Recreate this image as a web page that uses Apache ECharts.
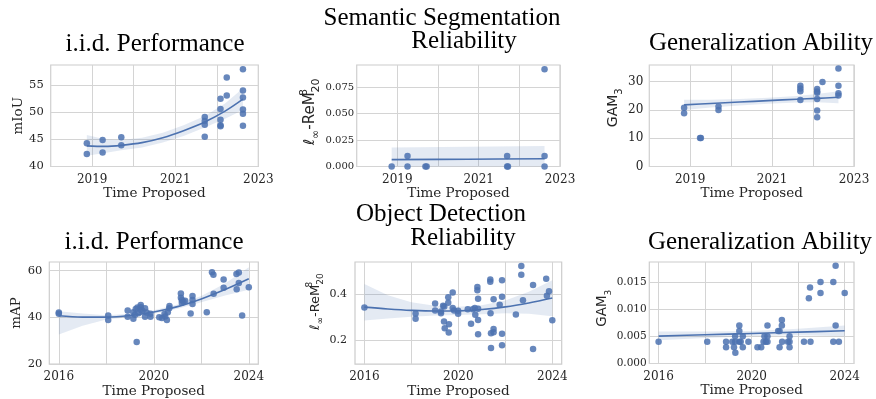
<!DOCTYPE html>
<html>
<head>
<meta charset="utf-8">
<script src="https://cdn.jsdelivr.net/npm/echarts@6/dist/echarts.min.js"></script>
<style>
  html, body { margin: 0; padding: 0; background: #fff; }
  #chart { width: 876px; height: 399px; }
</style>
</head>
<body>
<div id="chart"></div>
<script>
// ---- Semantic segmentation: i.i.d. performance (mIoU) ----
const segIidPoints = [
  [2018.87, 44.3], [2018.87, 42.3], [2019.25, 44.9], [2019.25, 42.6], [2019.70, 45.4], [2019.70, 43.9],
  [2021.71, 49.1], [2021.71, 48.4], [2021.71, 47.7], [2021.71, 45.5],
  [2022.09, 52.5], [2022.09, 50.6], [2022.09, 48.6], [2022.09, 47.6], [2022.09, 47.4],
  [2022.24, 56.4], [2022.24, 53.1],
  [2022.63, 57.9], [2022.63, 54.0], [2022.63, 52.7], [2022.63, 50.5], [2022.63, 49.7], [2022.63, 47.5]
];
const segIidFitX  = [2018.87, 2019.3, 2019.7, 2020.2, 2020.7, 2021.2, 2021.71, 2022.2, 2022.63];
const segIidFit   = [43.8, 43.7, 43.9, 44.4, 45.3, 46.6, 48.2, 50.2, 52.4];
const segIidUpper = [45.8, 45.0, 44.9, 45.3, 46.2, 47.6, 49.3, 51.6, 54.4];
const segIidLower = [42.0, 42.5, 43.0, 43.5, 44.4, 45.6, 47.2, 48.8, 50.4];

// ---- Semantic segmentation: reliability ----
const segRelPoints = [
  [2018.86, 0], [2019.25, 0.010], [2019.25, 0], [2019.69, 0], [2019.72, 0],
  [2021.70, 0.010], [2021.70, 0], [2021.72, 0],
  [2022.62, 0.092], [2022.62, 0.010], [2022.62, 0]
];
const segRelFitX  = [2018.86, 2020.74, 2022.62];
const segRelFit   = [0.0065, 0.0069, 0.0073];
const segRelUpper = [0.0180, 0.0186, 0.0195];
const segRelLower = [-0.0050, -0.0048, -0.0050];

// ---- Semantic segmentation: generalization ability (GAM3) ----
const segGenPoints = [
  [2018.85, 20.8], [2018.85, 18.8], [2019.24, 10.1], [2019.26, 10.1], [2019.69, 21.2], [2019.69, 20.0],
  [2021.69, 28.6], [2021.69, 27.6], [2021.69, 26.6], [2021.69, 23.5],
  [2022.10, 27.4], [2022.10, 26.5], [2022.10, 26.1], [2022.10, 23.9], [2022.10, 19.8], [2022.10, 17.4],
  [2022.23, 29.9],
  [2022.62, 34.7], [2022.62, 28.6], [2022.62, 25.9], [2022.62, 25.1]
];
const segGenFitX  = [2018.85, 2019.5, 2020.2, 2020.9, 2021.6, 2022.1, 2022.62];
const segGenFit   = [21.8, 22.3, 22.8, 23.3, 23.8, 24.1, 24.5];
const segGenUpper = [23.6, 23.6, 23.9, 24.3, 24.9, 25.6, 26.6];
const segGenLower = [20.0, 20.9, 21.6, 22.2, 22.6, 22.7, 22.4];

// ---- Object detection: i.i.d. performance (mAP) ----
const detIidPoints = [
  [2016.0, 42.1], [2016.0, 41.5], [2018.08, 40.8], [2018.08, 38.9], [2018.90, 42.9], [2018.90, 40.3],
  [2019.14, 42.2], [2019.14, 39.4], [2019.21, 41.1], [2019.24, 43.6], [2019.31, 44.2], [2019.28, 29.5],
  [2019.35, 41.8], [2019.45, 45.3], [2019.45, 44.3], [2019.45, 43.2], [2019.52, 42.8], [2019.63, 43.9],
  [2019.63, 40.3], [2019.70, 42.1], [2019.86, 40.3], [2019.86, 41.5], [2020.23, 40.0], [2020.34, 39.7],
  [2020.45, 41.4], [2020.48, 40.4], [2020.55, 38.9], [2020.59, 42.2], [2020.65, 43.9], [2020.66, 44.9],
  [2021.14, 50.2], [2021.14, 48.4], [2021.18, 47.4], [2021.25, 46.7], [2021.32, 47.1], [2021.18, 46.3],
  [2021.55, 41.7], [2021.63, 49.1], [2021.63, 47.4], [2021.63, 45.7], [2022.23, 42.2], [2022.45, 59.3],
  [2022.51, 58.2], [2022.52, 50.1], [2022.94, 56.2], [2022.94, 52.7], [2023.48, 58.6], [2023.58, 59.2],
  [2023.49, 52.0], [2023.58, 54.7], [2023.72, 40.8], [2024.0, 52.9]
];
const detIidFitX  = [2016, 2017, 2018, 2019, 2020, 2021, 2022, 2023, 2024];
const detIidFit   = [40.7, 40.1, 40.1, 40.8, 42.3, 44.6, 47.9, 51.9, 56.5];
const detIidUpper = [42.6, 41.7, 40.9, 41.6, 43.0, 45.5, 49.2, 54.5, 61.5];
const detIidLower = [32.7, 36.4, 39.1, 40.0, 41.5, 43.7, 46.5, 49.4, 51.8];

// ---- Object detection: reliability ----
const detRelPoints = [
  [2016.0, 0.342], [2018.18, 0.317], [2018.18, 0.294], [2019.01, 0.360], [2019.01, 0.330],
  [2019.26, 0.325], [2019.26, 0.318], [2019.35, 0.350], [2019.40, 0.347], [2019.57, 0.386],
  [2019.57, 0.363], [2019.39, 0.282], [2019.42, 0.253], [2019.60, 0.270], [2019.59, 0.235],
  [2019.76, 0.407], [2019.76, 0.340], [2019.82, 0.330], [2019.99, 0.328], [2019.99, 0.315],
  [2020.40, 0.335], [2020.54, 0.272], [2020.62, 0.335], [2020.70, 0.340], [2020.72, 0.311],
  [2020.81, 0.430], [2020.81, 0.416], [2020.84, 0.380], [2020.84, 0.337], [2020.84, 0.289],
  [2020.84, 0.227], [2021.36, 0.463], [2021.36, 0.453], [2021.37, 0.318], [2021.39, 0.232],
  [2021.50, 0.250], [2021.50, 0.236], [2021.50, 0.378], [2021.39, 0.168], [2021.76, 0.354],
  [2021.86, 0.459], [2021.86, 0.389], [2021.86, 0.229], [2021.86, 0.180], [2022.45, 0.312],
  [2022.68, 0.521], [2022.68, 0.483], [2022.75, 0.374], [2023.18, 0.439], [2023.18, 0.164],
  [2023.74, 0.466], [2023.77, 0.393], [2023.86, 0.412], [2024.0, 0.288]
];
const detRelFitX  = [2016, 2017, 2018, 2019, 2020, 2021, 2022, 2023, 2024];
const detRelFit   = [0.344, 0.336, 0.330, 0.327, 0.328, 0.334, 0.345, 0.362, 0.383];
const detRelUpper = [0.443, 0.395, 0.365, 0.350, 0.346, 0.352, 0.372, 0.410, 0.460];
const detRelLower = [0.286, 0.295, 0.303, 0.308, 0.310, 0.313, 0.318, 0.315, 0.305];

// ---- Object detection: generalization ability (GAM3) ----
const detGenPoints = [
  [2016.0, 0.004], [2018.09, 0.004], [2018.90, 0.004], [2018.90, 0.003], [2019.17, 0.004],
  [2019.24, 0.003], [2019.29, 0.004], [2019.29, 0.005], [2019.30, 0.002], [2019.47, 0.007],
  [2019.47, 0.006], [2019.47, 0.004], [2019.53, 0.004], [2019.62, 0.005], [2019.62, 0.003],
  [2019.86, 0.004], [2020.25, 0.003], [2020.41, 0.003], [2020.51, 0.004], [2020.55, 0.005],
  [2020.61, 0.004], [2020.68, 0.007], [2020.68, 0.005], [2020.68, 0.004], [2021.14, 0.006],
  [2021.20, 0.006], [2021.20, 0.003], [2021.30, 0.008], [2021.30, 0.007], [2021.31, 0.004],
  [2021.56, 0.004], [2021.63, 0.005], [2021.63, 0.004], [2021.63, 0.003], [2022.25, 0.004],
  [2022.46, 0.012], [2022.51, 0.014], [2022.53, 0.004], [2022.96, 0.015], [2022.96, 0.013],
  [2023.51, 0.015], [2023.61, 0.018], [2023.61, 0.007], [2023.51, 0.004], [2023.75, 0.004],
  [2024.0, 0.013]
];
const detGenFitX  = [2016, 2018, 2020, 2022, 2024];
const detGenFit   = [0.00504, 0.00529, 0.00554, 0.00578, 0.00603];
const detGenUpper = [0.0059, 0.0059, 0.0060, 0.0064, 0.0070];
const detGenLower = [0.0043, 0.0047, 0.0050, 0.0052, 0.0050];

// ---- tick positions ----
const segYearTicks = [2018, 2019, 2020, 2021, 2022, 2023];
const segYearLabels = [2019, 2021, 2023];
const detYearTicks = [2016, 2018, 2020, 2022, 2024];
const detYearLabels = [2016, 2020, 2024];

// ---- styling ----
const BLUE = '#4c72b0';
const BAND = 'rgba(76,114,176,0.15)';
const GRID_LINE = '#d4d4d4';
const FRAME = '#cccccc';
const TICK_TEXT = '#262626';
const SERIF = '"DejaVu Serif", serif';
const SANS = '"DejaVu Sans", sans-serif';

function mathRich(size) {
  const small = Math.round(size * 0.7);
  const lh = Math.round(size * 1.5);
  return {
    it: { fontFamily: SANS, fontStyle: 'italic', fontSize: size, lineHeight: lh, color: TICK_TEXT },
    rm: { fontFamily: SANS, fontSize: size, lineHeight: lh, color: TICK_TEXT },
    hi: { fontFamily: SANS, fontSize: small, lineHeight: small + 2, width: 0, verticalAlign: 'top', color: TICK_TEXT },
    lo: { fontFamily: SANS, fontSize: small, lineHeight: small + 2, verticalAlign: 'bottom', color: TICK_TEXT }
  };
}

const panels = [
  { box: { left: 50.7, top: 65, width: 207.6, height: 101.5 },
    x: { min: 2018, max: 2023, ticks: segYearTicks, labels: segYearLabels, nameGap: 20 },
    y: { min: 40, max: 58.7, ticks: [40, 45, 50, 55], digits: 0, margin: 7, size: 11.5 },
    yName: { text: 'mIoU', font: SERIF, size: 13.5, gap: 23, shift: 0 },
    pts: segIidPoints, fx: segIidFitX, fit: segIidFit, up: segIidUpper, lo: segIidLower },
  { box: { left: 356.7, top: 65, width: 203.3, height: 101.5 },
    x: { min: 2018, max: 2023, ticks: segYearTicks, labels: segYearLabels, nameGap: 20 },
    y: { min: 0, max: 0.096, ticks: [0, 0.025, 0.05, 0.075], digits: 3, margin: 2.5, size: 10 },
    yName: { rich: '{it|ℓ}{lo|∞}{rm|-ReM}{hi|8}{lo|20}', size: 15, gap: 24, shift: 8 },
    pts: segRelPoints, fx: segRelFitX, fit: segRelFit, up: segRelUpper, lo: segRelLower },
  { box: { left: 649.3, top: 65, width: 204.7, height: 101.5 },
    x: { min: 2018, max: 2023, ticks: segYearTicks, labels: segYearLabels, nameGap: 20 },
    y: { min: 0, max: 35.9, ticks: [0, 10, 20, 30], digits: 0, margin: 6, size: 12 },
    yName: { rich: '{rm|GAM}{lo|3}', size: 14, gap: 22, shift: 16 },
    pts: segGenPoints, fx: segGenFitX, fit: segGenFit, up: segGenUpper, lo: segGenLower },
  { box: { left: 49.3, top: 262, width: 209, height: 102.5 },
    x: { min: 2015.6, max: 2024.4, ticks: detYearTicks, labels: detYearLabels, nameGap: 18 },
    y: { min: 20, max: 63.7, ticks: [20, 40, 60], digits: 0, margin: 7, size: 11.5 },
    yName: { text: 'mAP', font: SERIF, size: 13.5, gap: 24, shift: 0 },
    pts: detIidPoints, fx: detIidFitX, fit: detIidFit, up: detIidUpper, lo: detIidLower },
  { box: { left: 355, top: 262, width: 206.7, height: 102.5 },
    x: { min: 2015.6, max: 2024.4, ticks: detYearTicks, labels: detYearLabels, nameGap: 18 },
    y: { min: 0.099, max: 0.538, ticks: [0.2, 0.4], digits: 1, margin: 8, size: 11 },
    yName: { rich: '{it|ℓ}{lo|∞}{rm|-ReM}{hi|8}{lo|20}', size: 13, gap: 22, shift: 23 },
    pts: detRelPoints, fx: detRelFitX, fit: detRelFit, up: detRelUpper, lo: detRelLower },
  { box: { left: 649.3, top: 262, width: 204.7, height: 101.5 },
    x: { min: 2015.6, max: 2024.4, ticks: detYearTicks, labels: detYearLabels, nameGap: 18 },
    y: { min: 0, max: 0.0187, ticks: [0, 0.005, 0.01, 0.015], digits: 3, margin: 2.6, size: 10.5 },
    yName: { rich: '{rm|GAM}{lo|3}', size: 13.5, gap: 22, shift: 9 },
    pts: detGenPoints, fx: detGenFitX, fit: detGenFit, up: detGenUpper, lo: detGenLower }
];

const titles = [
  { text: 'Semantic Segmentation', x: 442, y: 18.6 },
  { text: 'i.i.d. Performance', x: 155, y: 44.2 },
  { text: 'Reliability', x: 464, y: 41.9 },
  { text: 'Generalization Ability', x: 761, y: 43.6 },
  { text: 'Object Detection', x: 441, y: 214.6 },
  { text: 'i.i.d. Performance', x: 154, y: 242.6 },
  { text: 'Reliability', x: 463, y: 238.6 },
  { text: 'Generalization Ability', x: 760, y: 242 }
];

const grids = [], xAxes = [], yAxes = [], series = [];

panels.forEach((p, i) => {
  grids.push(Object.assign({ show: true, borderColor: FRAME, borderWidth: 1.2, backgroundColor: '#fff', containLabel: false }, p.box));

  xAxes.push({
    type: 'value', gridIndex: i, min: p.x.min, max: p.x.max,
    axisLine: { show: false },
    axisTick: { show: false, customValues: p.x.ticks },
    splitLine: { show: true, lineStyle: { color: GRID_LINE, width: 1 } },
    axisLabel: {
      customValues: p.x.labels, color: TICK_TEXT, fontFamily: SERIF, fontSize: 12, margin: 7,
      formatter: v => String(Math.round(v))
    },
    name: 'Time Proposed', nameLocation: 'middle', nameGap: p.x.nameGap,
    nameTextStyle: { color: TICK_TEXT, fontFamily: SERIF, fontSize: 13.5 }
  });

  const yn = p.yName;
  const nameStyle = yn.rich
    ? { rich: mathRich(yn.size), padding: [0, 0, 0, yn.shift] }
    : { color: TICK_TEXT, fontFamily: yn.font, fontSize: yn.size, padding: [0, 0, 0, yn.shift] };
  yAxes.push({
    type: 'value', gridIndex: i, min: p.y.min, max: p.y.max,
    axisLine: { show: false },
    axisTick: { show: false, customValues: p.y.ticks },
    splitLine: { show: true, lineStyle: { color: GRID_LINE, width: 1 } },
    axisLabel: {
      customValues: p.y.ticks, color: TICK_TEXT, fontFamily: SERIF, fontSize: p.y.size, margin: p.y.margin,
      formatter: v => v.toFixed(p.y.digits)
    },
    name: yn.rich || yn.text, nameLocation: 'middle', nameGap: yn.gap, nameRotate: 90,
    nameTextStyle: nameStyle
  });

  // confidence band of the regression fit
  const fx = p.fx, up = p.up, lo = p.lo;
  series.push({
    type: 'custom', xAxisIndex: i, yAxisIndex: i, silent: true, z: 1,
    data: [[fx[0], up[0]]],
    renderItem(params, api) {
      const top = fx.map((x, k) => api.coord([x, up[k]]));
      const bottom = fx.map((x, k) => api.coord([x, lo[k]])).reverse();
      const cs = params.coordSys;
      return {
        type: 'polygon',
        shape: { points: top.concat(bottom) },
        style: { fill: BAND },
        clipPath: { type: 'rect', shape: { x: cs.x, y: cs.y, width: cs.width, height: cs.height } }
      };
    }
  });

  series.push({
    type: 'scatter', xAxisIndex: i, yAxisIndex: i, z: 2,
    data: p.pts, symbolSize: 6.5,
    itemStyle: { color: BLUE, opacity: 0.85 }
  });

  series.push({
    type: 'line', xAxisIndex: i, yAxisIndex: i, z: 3,
    data: fx.map((x, k) => [x, p.fit[k]]),
    smooth: 0.35, showSymbol: false, symbol: 'none',
    lineStyle: { color: BLUE, width: 1.6 }
  });
});

const chart = echarts.init(document.getElementById('chart'), null, { renderer: 'canvas' });
chart.setOption({
  animation: false,
  backgroundColor: '#fff',
  grid: grids,
  xAxis: xAxes,
  yAxis: yAxes,
  series: series,
  graphic: titles.map(t => ({
    type: 'text', x: t.x, y: t.y, silent: true,
    style: {
      text: t.text, fill: '#000', font: '25px "Liberation Serif", serif',
      align: 'center', verticalAlign: 'middle', textAlign: 'center', textVerticalAlign: 'middle'
    }
  }))
});
</script>
</body>
</html>
